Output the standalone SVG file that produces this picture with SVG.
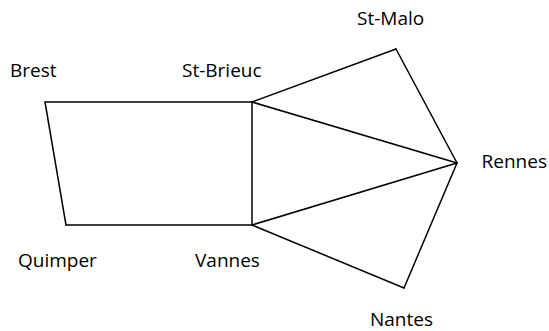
<svg xmlns="http://www.w3.org/2000/svg" width="549" height="331" viewBox="0 0 549 331">
<style>
.e{stroke:#000;stroke-width:1.5;fill:none;stroke-linecap:round}
.t{font-family:"Open Sans","Noto Sans",sans-serif;font-size:19px;fill:#000}
</style>
<rect width="549" height="331" fill="#fff"/>
<g id="connectors">
<line class="e" x1="45" y1="102" x2="252" y2="102"/>
<line class="e" x1="45" y1="102" x2="66" y2="225"/>
<line class="e" x1="66" y1="225" x2="252" y2="225"/>
<line class="e" x1="252" y1="102" x2="252" y2="225"/>
<line class="e" x1="252" y1="102" x2="396" y2="49"/>
<line class="e" x1="252" y1="102" x2="457" y2="163"/>
<line class="e" x1="396" y1="49" x2="457" y2="163"/>
<line class="e" x1="252" y1="225" x2="457" y2="163"/>
<line class="e" x1="252" y1="225" x2="404" y2="288"/>
<line class="e" x1="404" y1="288" x2="457" y2="163"/>
</g>
<g id="Brest"><text class="t" x="10" y="77">Brest</text></g>
<g id="St-Brieuc"><text class="t" x="182" y="77">St-Brieuc</text></g>
<g id="St-Malo"><text class="t" x="357" y="25">St-Malo</text></g>
<g id="Rennes"><text class="t" x="547" y="168" text-anchor="end">Rennes</text></g>
<g id="Quimper"><text class="t" x="18" y="267">Quimper</text></g>
<g id="Vannes"><text class="t" x="195" y="267">Vannes</text></g>
<g id="Nantes"><text class="t" x="370" y="326">Nantes</text></g>
</svg>
